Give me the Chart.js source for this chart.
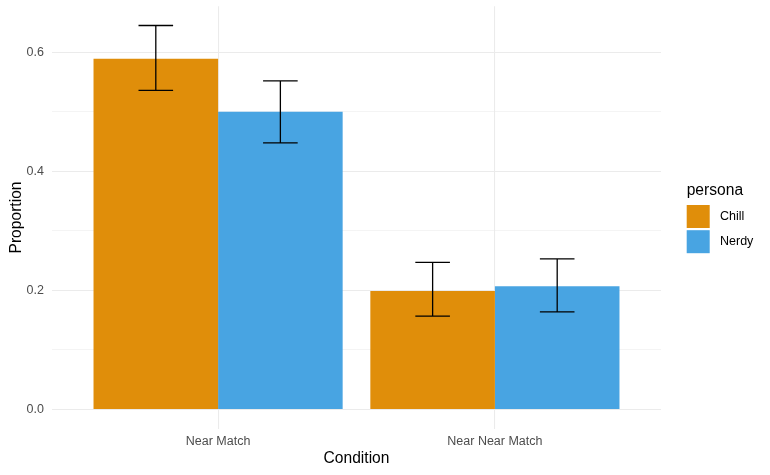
<!DOCTYPE html>
<html>
<head>
<meta charset="utf-8">
<style>
  html, body { margin: 0; padding: 0; background: #ffffff; }
  #wrap { width: 770px; height: 475px; }
</style>
<script src="https://cdn.jsdelivr.net/npm/chart.js@4.4.1/dist/chart.umd.min.js"></script>
</head>
<body>
<div id="wrap"><canvas id="c" width="770" height="475"></canvas></div>
<script>
// ---- data ----
const categories = ['Near Match', 'Near Near Match'];
const personas = ['Chill', 'Nerdy'];
const chillValues = [0.589, 0.199];
const nerdyValues = [0.500, 0.207];
const chillLower = [0.536, 0.157];
const chillUpper = [0.645, 0.247];
const nerdyLower = [0.448, 0.164];
const nerdyUpper = [0.552, 0.253];
const yMajorTicks = [0, 0.2, 0.4, 0.6];
const yMinorTicks = [0.1, 0.3, 0.5];

// ---- styles ----
const personaColors = ['#E08E0A', '#48A4E2'];
const gridColor = '#EBEBEB';
const fontFamily = '"Liberation Sans", Arial, Helvetica, sans-serif';
const tickSize = 12.5;
const titleSize = 15.6;
const errorCapWidth = 0.125; // in x-axis units

const seriesValues = [chillValues, nerdyValues];
const seriesLower = [chillLower, nerdyLower];
const seriesUpper = [chillUpper, nerdyUpper];

const yAllTicks = yMajorTicks.concat(yMinorTicks).sort((a, b) => a - b);
const isMajor = v => yMajorTicks.some(m => Math.abs(m - v) < 1e-9);

const errorBarPlugin = {
  id: 'errorBars',
  afterDatasetsDraw(chart) {
    const ctx = chart.ctx;
    const xs = chart.scales.x, ys = chart.scales.y;
    const half = (xs.getPixelForValue(errorCapWidth) - xs.getPixelForValue(0)) / 2;
    ctx.save();
    ctx.strokeStyle = '#000000';
    ctx.lineWidth = 1.3;
    chart.data.datasets.forEach((ds, d) => {
      const meta = chart.getDatasetMeta(d);
      meta.data.forEach((el, i) => {
        const x = el.x;
        const yl = ys.getPixelForValue(seriesLower[d][i]);
        const yu = ys.getPixelForValue(seriesUpper[d][i]);
        ctx.beginPath();
        ctx.moveTo(x, yl); ctx.lineTo(x, yu);
        ctx.moveTo(x - half, yl); ctx.lineTo(x + half, yl);
        ctx.moveTo(x - half, yu); ctx.lineTo(x + half, yu);
        ctx.stroke();
      });
    });
    ctx.restore();
  }
};

const legendPlugin = {
  id: 'ggLegend',
  afterDraw(chart) {
    const ctx = chart.ctx;
    ctx.save();
    const x0 = 686.7;
    ctx.fillStyle = '#000000';
    ctx.font = titleSize + 'px ' + fontFamily;
    ctx.textAlign = 'left';
    ctx.textBaseline = 'alphabetic';
    ctx.fillText('persona', x0, 194.7);
    chart.data.datasets.forEach((ds, d) => {
      const top = 205 + d * 25.2;
      ctx.fillStyle = ds.backgroundColor;
      ctx.fillRect(x0, top, 23, 23);
      ctx.fillStyle = '#000000';
      ctx.font = tickSize + 'px ' + fontFamily;
      ctx.textBaseline = 'middle';
      ctx.fillText(ds.label, 720, top + 11.8);
    });
    ctx.restore();
  }
};

const zeroPad = s => { s.paddingTop = 0; s.paddingBottom = 0; s.paddingLeft = 0; s.paddingRight = 0; };

new Chart(document.getElementById('c'), {
  type: 'bar',
  data: {
    datasets: personas.map((p, d) => ({
      label: p,
      data: seriesValues[d].map((v, i) => ({ x: i + 1, y: v })),
      backgroundColor: personaColors[d],
      borderWidth: 0,
      categoryPercentage: 0.9,
      barPercentage: 1.0
    }))
  },
  options: {
    responsive: false,
    animation: false,
    devicePixelRatio: 1,
    layout: { padding: { left: 0, right: 109, top: 6.3, bottom: 0 } },
    plugins: { legend: { display: false }, tooltip: { enabled: false } },
    scales: {
      x: {
        type: 'linear',
        min: 0.4,
        max: 2.6,
        bounds: 'data',
        offset: false,
        grid: { color: gridColor, lineWidth: 1.07, drawTicks: false, offset: false },
        border: { display: false },
        afterBuildTicks: s => { s.ticks = categories.map((c, i) => ({ value: i + 1 })); },
        afterFit: s => { s.height = 46.3; zeroPad(s); },
        ticks: {
          padding: 5.3,
          color: '#4D4D4D',
          font: { family: fontFamily, size: tickSize },
          maxRotation: 0,
          autoSkip: false,
          callback: v => categories[Math.round(v) - 1] || ''
        },
        title: {
          display: true,
          text: 'Condition',
          color: '#000000',
          font: { family: fontFamily, size: titleSize },
          padding: { top: 0, bottom: 6.9 }
        }
      },
      y: {
        type: 'linear',
        min: -0.03225,
        max: 0.67725,
        bounds: 'data',
        grid: {
          color: gridColor,
          lineWidth: c => (c.tick && isMajor(c.tick.value)) ? 1.07 : 0.53,
          drawTicks: false
        },
        border: { display: false },
        afterBuildTicks: s => { s.ticks = yAllTicks.map(v => ({ value: v })); },
        afterFit: s => { s.width = 52; zeroPad(s); },
        ticks: {
          padding: 8,
          color: '#4D4D4D',
          font: { family: fontFamily, size: tickSize },
          autoSkip: false,
          callback: v => isMajor(v) ? v.toFixed(1) : ''
        },
        title: {
          display: true,
          text: 'Proportion',
          color: '#000000',
          font: { family: fontFamily, size: titleSize },
          padding: { top: 7.8, bottom: 0 }
        }
      }
    }
  },
  plugins: [errorBarPlugin, legendPlugin]
});
</script>
</body>
</html>
